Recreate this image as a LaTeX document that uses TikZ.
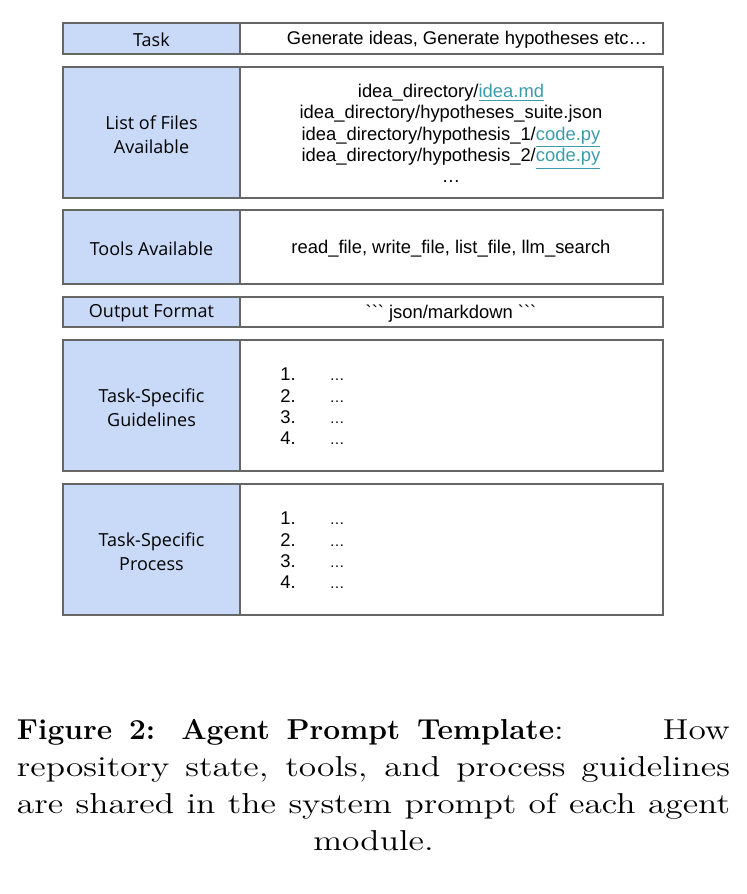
\documentclass[tikz,border=0pt]{standalone}
\usepackage{fontspec}
\setsansfont{Open Sans}
\newfontfamily\cellfont{Liberation Sans}
\newfontfamily\captionfont{lmroman12}[Extension=.otf,UprightFont=*-regular,BoldFont=*-bold,
  UprightFeatures={FakeStretch=1.23},BoldFeatures={FakeStretch=1.04}]
\definecolor{labelblue}{HTML}{C9DAF8}
\definecolor{framegray}{HTML}{666666}
\definecolor{linkteal}{HTML}{3C9DAA}
\newcommand{\filelink}[1]{\textcolor{linkteal}{\underline{#1}}}
\newcommand{\smalldots}{{\fontsize{7.5}{7.5}\selectfont …}}
\newcommand{\dotlist}{\begin{tabular}{@{}l@{\hspace{17pt}}l@{}}1.&\smalldots\\2.&\smalldots\\3.&\smalldots\\4.&\smalldots\end{tabular}}
\newcommand{\capline}[1]{\makebox[356.5pt][s]{#1}}
\tikzset{
  labelcell/.style={draw=framegray,line width=1pt,fill=labelblue},
  contentcell/.style={draw=framegray,line width=1pt,fill=white},
  labeltext/.style={font=\sffamily\fontsize{9}{12}\selectfont,align=center,inner sep=0pt},
  contenttext/.style={font=\cellfont\fontsize{9.2}{10.7}\selectfont,align=center,inner sep=0pt}
}
\begin{document}
\begin{tikzpicture}[x=0.5pt,y=-0.5pt]
  \useasboundingbox (0,0) rectangle (746,894);
  % rows
  \foreach \top/\bot in {23/54,67/198,210/284,297/327,340/471,484/615}{
    \draw[labelcell] (63,\top) rectangle (240,\bot);
    \draw[contentcell] (240,\top) rectangle (663,\bot);
  }
  % labels
  \node[labeltext] (task) at (151.5,40) {Task};
  \node[labeltext] (files) at (151.5,134.5) {List of Files\\Available};
  \node[labeltext] (tools) at (151.5,248.5) {Tools Available};
  \node[labeltext] (format) at (151.5,313.5) {Output Format};
  \node[labeltext] (guide) at (151.5,407.5) {Task-Specific\\Guidelines};
  \node[labeltext] (process) at (151.5,551.5) {Task-Specific\\Process};
  % contents
  \node[contenttext] (taskval) at (467,40) {Generate ideas, Generate hypotheses etc…};
  \node[contenttext] (filesval) at (451,133.5) {idea\_directory/\filelink{idea.md}\\
    idea\_directory/hypotheses\_suite.json\\
    idea\_directory/hypothesis\_1/\filelink{code.py}\\
    idea\_directory/hypothesis\_2/\filelink{code.py}\\ …};
  \node[contenttext] (toolsval) at (451,248.5) {read\_file, write\_file, list\_file, llm\_search};
  \node[contenttext] (formatval) at (451,313.5) {``` json/markdown ```};
  \node[contenttext,anchor=west] (guideval) at (280,408.5) {\dotlist};
  \node[contenttext,anchor=west] (processval) at (280,552.5) {\dotlist};
  % caption
  \node[align=center,inner sep=0pt,font=\captionfont\fontsize{14.4}{18.5}\selectfont] (caption) at (373.5,785) {%
    \makebox[356.5pt]{{\spaceskip=8.4pt\xspaceskip=13pt\textbf{Figure 2: Agent Prompt Template}}:\hfill How}\\
    \capline{repository state, tools, and process guidelines}\\
    \capline{are shared in the system prompt of each agent}\\
    module.};
\end{tikzpicture}
\end{document}
